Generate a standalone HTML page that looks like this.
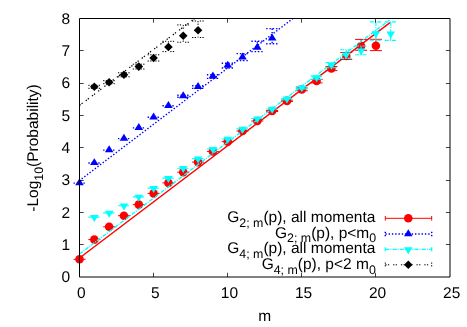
<!DOCTYPE html>
<html><head><meta charset="utf-8"><title>plot</title>
<style>
html,body{margin:0;padding:0;background:#fff;}
svg{display:block;}
text{font-family:"Liberation Sans",sans-serif;font-size:15.5px;fill:#000;text-rendering:geometricPrecision;}
.t{will-change:transform;}
</style></head><body>
<svg width="467" height="327" viewBox="0 0 467 327">
<rect width="467" height="327" fill="#fff"/>
<g stroke="#ff0000" stroke-width="1.0" fill="none"><path d="M73.50 259.30H85.50"/></g>
<circle cx="79.50" cy="259.30" r="4.3" fill="#ff0000"/>
<g stroke="#ff0000" stroke-width="1.0" fill="none"><path d="M88.32 239.60H100.32"/></g>
<circle cx="94.32" cy="239.60" r="4.3" fill="#ff0000"/>
<g stroke="#ff0000" stroke-width="1.0" fill="none"><path d="M103.14 226.80H115.14"/></g>
<circle cx="109.14" cy="226.80" r="4.3" fill="#ff0000"/>
<g stroke="#ff0000" stroke-width="1.0" fill="none"><path d="M117.96 215.70H129.96"/></g>
<circle cx="123.96" cy="215.70" r="4.3" fill="#ff0000"/>
<g stroke="#ff0000" stroke-width="1.0" fill="none"><path d="M132.78 204.60H144.78"/></g>
<circle cx="138.78" cy="204.60" r="4.3" fill="#ff0000"/>
<g stroke="#ff0000" stroke-width="1.0" fill="none"><path d="M147.60 193.40H159.60"/></g>
<circle cx="153.60" cy="193.40" r="4.3" fill="#ff0000"/>
<g stroke="#ff0000" stroke-width="1.0" fill="none"><path d="M162.42 182.90H174.42"/></g>
<circle cx="168.42" cy="182.90" r="4.3" fill="#ff0000"/>
<g stroke="#ff0000" stroke-width="1.0" fill="none"><path d="M177.24 172.20H189.24"/></g>
<circle cx="183.24" cy="172.20" r="4.3" fill="#ff0000"/>
<g stroke="#ff0000" stroke-width="1.0" fill="none"><path d="M192.06 162.10H204.06"/></g>
<circle cx="198.06" cy="162.10" r="4.3" fill="#ff0000"/>
<g stroke="#ff0000" stroke-width="1.0" fill="none"><path d="M206.88 151.40H218.88"/></g>
<circle cx="212.88" cy="151.40" r="4.3" fill="#ff0000"/>
<g stroke="#ff0000" stroke-width="1.0" fill="none"><path d="M221.70 141.60H233.70"/></g>
<circle cx="227.70" cy="141.60" r="4.3" fill="#ff0000"/>
<g stroke="#ff0000" stroke-width="1.0" fill="none"><path d="M236.52 131.00H248.52"/></g>
<circle cx="242.52" cy="131.00" r="4.3" fill="#ff0000"/>
<g stroke="#ff0000" stroke-width="1.0" fill="none"><path d="M251.34 121.00H263.34"/></g>
<circle cx="257.34" cy="121.00" r="4.3" fill="#ff0000"/>
<g stroke="#ff0000" stroke-width="1.0" fill="none"><path d="M272.16 110.50V111.50M266.16 110.50H278.16M266.16 111.50H278.16"/></g>
<circle cx="272.16" cy="111.00" r="4.3" fill="#ff0000"/>
<g stroke="#ff0000" stroke-width="1.0" fill="none"><path d="M286.98 100.20V101.60M280.98 100.20H292.98M280.98 101.60H292.98"/></g>
<circle cx="286.98" cy="100.90" r="4.3" fill="#ff0000"/>
<g stroke="#ff0000" stroke-width="1.0" fill="none"><path d="M301.80 88.00V90.70M295.80 88.00H307.80M295.80 90.70H307.80"/></g>
<circle cx="301.80" cy="89.50" r="4.3" fill="#ff0000"/>
<g stroke="#ff0000" stroke-width="1.0" fill="none"><path d="M316.62 79.50V82.90M310.62 79.50H322.62M310.62 82.90H322.62"/></g>
<circle cx="316.62" cy="81.00" r="4.3" fill="#ff0000"/>
<g stroke="#ff0000" stroke-width="1.0" fill="none"><path d="M331.44 66.50V70.60M325.44 66.50H337.44M325.44 70.60H337.44"/></g>
<circle cx="331.44" cy="68.50" r="4.3" fill="#ff0000"/>
<g stroke="#ff0000" stroke-width="1.0" fill="none"><path d="M346.26 52.50V59.40M340.26 52.50H352.26M340.26 59.40H352.26"/></g>
<circle cx="346.26" cy="56.00" r="4.3" fill="#ff0000"/>
<g stroke="#ff0000" stroke-width="1.0" fill="none"><path d="M361.08 39.40V50.30M355.08 39.40H367.08M355.08 50.30H367.08"/></g>
<circle cx="361.08" cy="46.00" r="4.3" fill="#ff0000"/>
<g stroke="#ff0000" stroke-width="1.0" fill="none"><path d="M375.90 39.30V50.60M369.90 39.30H381.90M369.90 50.60H381.90"/></g>
<circle cx="375.90" cy="45.80" r="4.3" fill="#ff0000"/>
<path d="M79.5 258.0L390 22.6" stroke="#ff0000" stroke-width="1.4" fill="none"/>
<g stroke="#0000ff" stroke-width="1.4" fill="none" stroke-dasharray="1.4 1.9"><path d="M73.50 183.15H85.50"/></g>
<path d="M79.50 178.33L75.20 185.30H83.80Z" fill="#0000ff"/>
<g stroke="#0000ff" stroke-width="1.4" fill="none" stroke-dasharray="1.4 1.9"><path d="M88.32 162.95H100.32"/></g>
<path d="M94.32 158.13L90.02 165.10H98.62Z" fill="#0000ff"/>
<g stroke="#0000ff" stroke-width="1.4" fill="none" stroke-dasharray="1.4 1.9"><path d="M103.14 150.15H115.14"/></g>
<path d="M109.14 145.33L104.84 152.30H113.44Z" fill="#0000ff"/>
<g stroke="#0000ff" stroke-width="1.4" fill="none" stroke-dasharray="1.4 1.9"><path d="M117.96 138.65H129.96"/></g>
<path d="M123.96 133.83L119.66 140.80H128.26Z" fill="#0000ff"/>
<g stroke="#0000ff" stroke-width="1.4" fill="none" stroke-dasharray="1.4 1.9"><path d="M132.78 127.85H144.78"/></g>
<path d="M138.78 123.03L134.48 130.00H143.08Z" fill="#0000ff"/>
<g stroke="#0000ff" stroke-width="1.4" fill="none" stroke-dasharray="1.4 1.9"><path d="M147.60 117.25H159.60"/></g>
<path d="M153.60 112.43L149.30 119.40H157.90Z" fill="#0000ff"/>
<g stroke="#0000ff" stroke-width="1.4" fill="none" stroke-dasharray="1.4 1.9"><path d="M162.42 105.75H174.42"/></g>
<path d="M168.42 100.93L164.12 107.90H172.72Z" fill="#0000ff"/>
<g stroke="#0000ff" stroke-width="1.4" fill="none" stroke-dasharray="1.4 1.9"><path d="M183.24 95.30V97.30M177.24 95.30H189.24M177.24 97.30H189.24"/></g>
<path d="M183.24 91.23L178.94 98.20H187.54Z" fill="#0000ff"/>
<g stroke="#0000ff" stroke-width="1.4" fill="none" stroke-dasharray="1.4 1.9"><path d="M198.06 85.80V88.40M192.06 85.80H204.06M192.06 88.40H204.06"/></g>
<path d="M198.06 82.03L193.76 89.00H202.36Z" fill="#0000ff"/>
<g stroke="#0000ff" stroke-width="1.4" fill="none" stroke-dasharray="1.4 1.9"><path d="M212.88 74.80V78.40M206.88 74.80H218.88M206.88 78.40H218.88"/></g>
<path d="M212.88 71.53L208.58 78.50H217.18Z" fill="#0000ff"/>
<g stroke="#0000ff" stroke-width="1.4" fill="none" stroke-dasharray="1.4 1.9"><path d="M227.70 63.30V68.00M221.70 63.30H233.70M221.70 68.00H233.70"/></g>
<path d="M227.70 60.63L223.40 67.60H232.00Z" fill="#0000ff"/>
<g stroke="#0000ff" stroke-width="1.4" fill="none" stroke-dasharray="1.4 1.9"><path d="M242.52 53.60V60.60M236.52 53.60H248.52M236.52 60.60H248.52"/></g>
<path d="M242.52 52.53L238.22 59.50H246.82Z" fill="#0000ff"/>
<g stroke="#0000ff" stroke-width="1.4" fill="none" stroke-dasharray="1.4 1.9"><path d="M257.34 41.30V51.60M251.34 41.30H263.34M251.34 51.60H263.34"/></g>
<path d="M257.34 42.73L253.04 49.70H261.64Z" fill="#0000ff"/>
<g stroke="#0000ff" stroke-width="1.4" fill="none" stroke-dasharray="1.4 1.9"><path d="M272.16 28.60V43.80M266.16 28.60H278.16M266.16 43.80H278.16"/></g>
<path d="M272.16 33.53L267.86 40.50H276.46Z" fill="#0000ff"/>
<path d="M293.1 18.4L79.5 180.5" stroke="#0000ff" stroke-width="1.4" stroke-dasharray="1.4 1.9" fill="none"/>
<g stroke="#00ffff" stroke-width="1.1" fill="none" stroke-dasharray="4 1.1 1 1.2"><path d="M88.32 217.15H100.32"/></g>
<path d="M94.32 221.97L90.02 215.00H98.62Z" fill="#00ffff"/>
<g stroke="#00ffff" stroke-width="1.1" fill="none" stroke-dasharray="4 1.1 1 1.2"><path d="M103.14 212.85H115.14"/></g>
<path d="M109.14 217.67L104.84 210.70H113.44Z" fill="#00ffff"/>
<g stroke="#00ffff" stroke-width="1.1" fill="none" stroke-dasharray="4 1.1 1 1.2"><path d="M117.96 205.75H129.96"/></g>
<path d="M123.96 210.57L119.66 203.60H128.26Z" fill="#00ffff"/>
<g stroke="#00ffff" stroke-width="1.1" fill="none" stroke-dasharray="4 1.1 1 1.2"><path d="M132.78 196.85H144.78"/></g>
<path d="M138.78 201.67L134.48 194.70H143.08Z" fill="#00ffff"/>
<g stroke="#00ffff" stroke-width="1.1" fill="none" stroke-dasharray="4 1.1 1 1.2"><path d="M147.60 188.15H159.60"/></g>
<path d="M153.60 192.97L149.30 186.00H157.90Z" fill="#00ffff"/>
<g stroke="#00ffff" stroke-width="1.1" fill="none" stroke-dasharray="4 1.1 1 1.2"><path d="M162.42 178.15H174.42"/></g>
<path d="M168.42 182.97L164.12 176.00H172.72Z" fill="#00ffff"/>
<g stroke="#00ffff" stroke-width="1.1" fill="none" stroke-dasharray="4 1.1 1 1.2"><path d="M177.24 168.25H189.24"/></g>
<path d="M183.24 173.07L178.94 166.10H187.54Z" fill="#00ffff"/>
<g stroke="#00ffff" stroke-width="1.1" fill="none" stroke-dasharray="4 1.1 1 1.2"><path d="M192.06 158.65H204.06"/></g>
<path d="M198.06 163.47L193.76 156.50H202.36Z" fill="#00ffff"/>
<g stroke="#00ffff" stroke-width="1.1" fill="none" stroke-dasharray="4 1.1 1 1.2"><path d="M206.88 149.05H218.88"/></g>
<path d="M212.88 153.87L208.58 146.90H217.18Z" fill="#00ffff"/>
<g stroke="#00ffff" stroke-width="1.1" fill="none" stroke-dasharray="4 1.1 1 1.2"><path d="M221.70 138.95H233.70"/></g>
<path d="M227.70 143.77L223.40 136.80H232.00Z" fill="#00ffff"/>
<g stroke="#00ffff" stroke-width="1.1" fill="none" stroke-dasharray="4 1.1 1 1.2"><path d="M236.52 128.85H248.52"/></g>
<path d="M242.52 133.67L238.22 126.70H246.82Z" fill="#00ffff"/>
<g stroke="#00ffff" stroke-width="1.1" fill="none" stroke-dasharray="4 1.1 1 1.2"><path d="M251.34 118.55H263.34"/></g>
<path d="M257.34 123.37L253.04 116.40H261.64Z" fill="#00ffff"/>
<g stroke="#00ffff" stroke-width="1.1" fill="none" stroke-dasharray="4 1.1 1 1.2"><path d="M266.16 108.95H278.16"/></g>
<path d="M272.16 113.77L267.86 106.80H276.46Z" fill="#00ffff"/>
<g stroke="#00ffff" stroke-width="1.1" fill="none" stroke-dasharray="4 1.1 1 1.2"><path d="M280.98 98.65H292.98"/></g>
<path d="M286.98 103.47L282.68 96.50H291.28Z" fill="#00ffff"/>
<g stroke="#00ffff" stroke-width="1.1" fill="none" stroke-dasharray="4 1.1 1 1.2"><path d="M301.80 86.60V88.90M295.80 86.60H307.80M295.80 88.90H307.80"/></g>
<path d="M301.80 92.37L297.50 85.40H306.10Z" fill="#00ffff"/>
<g stroke="#00ffff" stroke-width="1.1" fill="none" stroke-dasharray="4 1.1 1 1.2"><path d="M316.62 76.10V79.20M310.62 76.10H322.62M310.62 79.20H322.62"/></g>
<path d="M316.62 82.17L312.32 75.20H320.92Z" fill="#00ffff"/>
<g stroke="#00ffff" stroke-width="1.1" fill="none" stroke-dasharray="4 1.1 1 1.2"><path d="M331.44 62.50V67.80M325.44 62.50H337.44M325.44 67.80H337.44"/></g>
<path d="M331.44 69.67L327.14 62.70H335.74Z" fill="#00ffff"/>
<g stroke="#00ffff" stroke-width="1.1" fill="none" stroke-dasharray="4 1.1 1 1.2"><path d="M346.26 49.80V58.40M340.26 49.80H352.26M340.26 58.40H352.26"/></g>
<path d="M346.26 59.37L341.96 52.40H350.56Z" fill="#00ffff"/>
<g stroke="#00ffff" stroke-width="1.1" fill="none" stroke-dasharray="4 1.1 1 1.2"><path d="M361.08 46.00V54.80M355.08 46.00H367.08M355.08 54.80H367.08"/></g>
<path d="M361.08 55.57L356.78 48.60H365.38Z" fill="#00ffff"/>
<g stroke="#00ffff" stroke-width="1.1" fill="none" stroke-dasharray="4 1.1 1 1.2"><path d="M375.90 21.90V40.20M369.90 21.90H381.90M369.90 40.20H381.90"/></g>
<path d="M375.90 38.27L371.60 31.30H380.20Z" fill="#00ffff"/>
<g stroke="#00ffff" stroke-width="1.1" fill="none" stroke-dasharray="4 1.1 1 1.2"><path d="M390.72 21.90V40.40M384.72 21.90H396.72M384.72 40.40H396.72"/></g>
<path d="M390.72 38.57L386.42 31.60H395.02Z" fill="#00ffff"/>
<path d="M79.5 254.0L389.6 20" stroke="#00ffff" stroke-width="1.35" stroke-dasharray="4 1.1 1 1.2" fill="none"/>
<g stroke="#000000" stroke-width="1.0" fill="none" stroke-dasharray="1.3 1.3 1.3 3.9"><path d="M94.32 85.30V88.30M88.32 85.30H100.32M88.32 88.30H100.32"/></g>
<path d="M94.32 82.50L90.02 86.80L94.32 91.10L98.62 86.80Z" fill="#000000"/>
<g stroke="#000000" stroke-width="1.0" fill="none" stroke-dasharray="1.3 1.3 1.3 3.9"><path d="M109.14 80.70V83.70M103.14 80.70H115.14M103.14 83.70H115.14"/></g>
<path d="M109.14 77.90L104.84 82.20L109.14 86.50L113.44 82.20Z" fill="#000000"/>
<g stroke="#000000" stroke-width="1.0" fill="none" stroke-dasharray="1.3 1.3 1.3 3.9"><path d="M123.96 72.80V76.80M117.96 72.80H129.96M117.96 76.80H129.96"/></g>
<path d="M123.96 70.50L119.66 74.80L123.96 79.10L128.26 74.80Z" fill="#000000"/>
<g stroke="#000000" stroke-width="1.0" fill="none" stroke-dasharray="1.3 1.3 1.3 3.9"><path d="M138.78 64.20V69.00M132.78 64.20H144.78M132.78 69.00H144.78"/></g>
<path d="M138.78 62.30L134.48 66.60L138.78 70.90L143.08 66.60Z" fill="#000000"/>
<g stroke="#000000" stroke-width="1.0" fill="none" stroke-dasharray="1.3 1.3 1.3 3.9"><path d="M153.60 54.80V61.00M147.60 54.80H159.60M147.60 61.00H159.60"/></g>
<path d="M153.60 53.70L149.30 58.00L153.60 62.30L157.90 58.00Z" fill="#000000"/>
<g stroke="#000000" stroke-width="1.0" fill="none" stroke-dasharray="1.3 1.3 1.3 3.9"><path d="M168.42 41.30V51.60M162.42 41.30H174.42M162.42 51.60H174.42"/></g>
<path d="M168.42 42.70L164.12 47.00L168.42 51.30L172.72 47.00Z" fill="#000000"/>
<g stroke="#000000" stroke-width="1.0" fill="none" stroke-dasharray="1.3 1.3 1.3 3.9"><path d="M183.24 24.90V42.20M177.24 24.90H189.24M177.24 42.20H189.24"/></g>
<path d="M183.24 31.50L178.94 35.80L183.24 40.10L187.54 35.80Z" fill="#000000"/>
<g stroke="#000000" stroke-width="1.0" fill="none" stroke-dasharray="1.3 1.3 1.3 3.9"><path d="M198.06 21.00V37.50M192.06 21.00H204.06M192.06 37.50H204.06"/></g>
<path d="M198.06 25.90L193.76 30.20L198.06 34.50L202.36 30.20Z" fill="#000000"/>
<path d="M79.5 105.4L194.6 18.5" stroke="#000000" stroke-width="1.25" stroke-dasharray="1.3 1.3 1.3 3.9" fill="none"/>
<path d="M79.5 18.5H450V277H79.5Z" fill="none" stroke="#000" stroke-width="1"/>
<path d="M153.50 277v-4.2M153.50 18.5v4.2M227.50 277v-4.2M227.50 18.5v4.2M301.50 277v-4.2M301.50 18.5v4.2M375.50 277v-4.2M375.50 18.5v4.2M79.5 244.50h4.2M450 244.50h-4.2M79.5 212.50h4.2M450 212.50h-4.2M79.5 180.50h4.2M450 180.50h-4.2M79.5 147.50h4.2M450 147.50h-4.2M79.5 115.50h4.2M450 115.50h-4.2M79.5 83.50h4.2M450 83.50h-4.2M79.5 50.50h4.2M450 50.50h-4.2" stroke="#000" stroke-width="0.75" fill="none"/>
<path d="M385.3 218.3H431.7M385.3 216.0v4.6M431.7 216.0v4.6" stroke="#ff0000" stroke-width="1.0" fill="none"/>
<circle cx="408.30" cy="218.30" r="4.3" fill="#ff0000"/>
<path d="M385.3 234.0H431.7M385.3 231.7v4.6M431.7 231.7v4.6" stroke="#0000ff" stroke-width="1.5" fill="none" stroke-dasharray="1.4 1.9"/>
<path d="M408.30 229.18L404.00 236.15H412.60Z" fill="#0000ff"/>
<path d="M385.3 249.45H431.7M385.3 247.14999999999998v4.6M431.7 247.14999999999998v4.6" stroke="#00ffff" stroke-width="1.3" fill="none" stroke-dasharray="4 1.1 1 1.2"/>
<path d="M408.30 254.27L404.00 247.30H412.60Z" fill="#00ffff"/>
<path d="M385.3 264.8H431.7M385.3 262.5v4.6M431.7 262.5v4.6" stroke="#000000" stroke-width="1.0" fill="none" stroke-dasharray="1.3 1.3 1.3 3.9"/>
<path d="M408.30 260.50L404.00 264.80L408.30 269.10L412.60 264.80Z" fill="#000000"/>
<g class="t">
<text x="70" y="282.30" text-anchor="end">0</text>
<text x="70" y="249.99" text-anchor="end">1</text>
<text x="70" y="217.68" text-anchor="end">2</text>
<text x="70" y="185.36" text-anchor="end">3</text>
<text x="70" y="153.05" text-anchor="end">4</text>
<text x="70" y="120.74" text-anchor="end">5</text>
<text x="70" y="88.42" text-anchor="end">6</text>
<text x="70" y="56.11" text-anchor="end">7</text>
<text x="70" y="23.80" text-anchor="end">8</text>
<text x="81.20" y="298" text-anchor="middle">0</text>
<text x="155.30" y="298" text-anchor="middle">5</text>
<text x="229.40" y="298" text-anchor="middle">10</text>
<text x="303.50" y="298" text-anchor="middle">15</text>
<text x="377.60" y="298" text-anchor="middle">20</text>
<text x="451.70" y="298" text-anchor="middle">25</text>
<text x="264.75" y="321" text-anchor="middle">m</text>
<text transform="translate(38.3 148) rotate(-90)" text-anchor="middle">-Log<tspan font-size="12.4" dy="4.6">10</tspan><tspan dy="-4.6">(Probability)</tspan></text>
<text x="375.4" y="221.9" text-anchor="end">G<tspan font-size="12.4" dy="4.6">2; m</tspan><tspan dy="-4.6">(p), all momenta</tspan></text>
<text x="376.2" y="237.8" text-anchor="end">G<tspan font-size="12.4" dy="4.6">2; m</tspan><tspan dy="-4.6">(p), p&lt;m</tspan><tspan font-size="12.4" dy="4.6">0</tspan></text>
<text x="375.4" y="253.1" text-anchor="end">G<tspan font-size="12.4" dy="4.6">4; m</tspan><tspan dy="-4.6">(p), all momenta</tspan></text>
<text x="375.8" y="269.0" text-anchor="end">G<tspan font-size="12.4" dy="4.6">4; m</tspan><tspan dy="-4.6">(p), p&lt;2 m</tspan><tspan font-size="12.4" dy="4.6">0</tspan></text>
</g>
</svg>
</body></html>
